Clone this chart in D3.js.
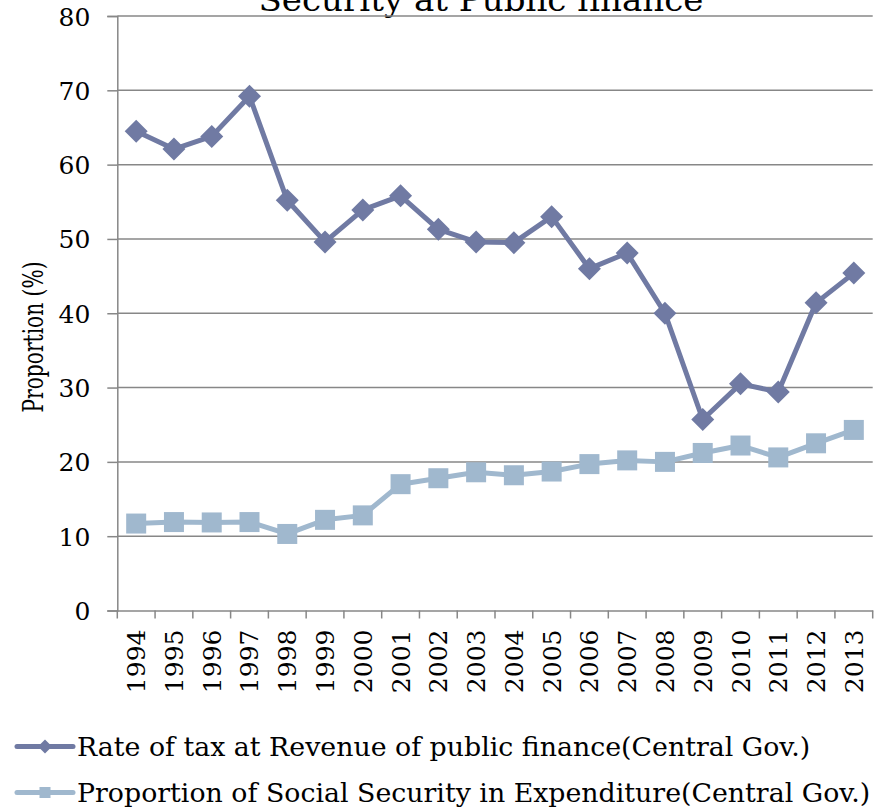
<!DOCTYPE html>
<html>
<head>
<meta charset="utf-8">
<script src="https://cdn.jsdelivr.net/npm/d3@7"></script>
<style>
  body { margin: 0; background: #fff; }
  text { font-family: "DejaVu Serif", serif; fill: #000; }
</style>
</head>
<body>
<script>
// data
var years = ["1994","1995","1996","1997","1998","1999","2000","2001","2002","2003",
             "2004","2005","2006","2007","2008","2009","2010","2011","2012","2013"];
var taxRate = [64.5, 62.1, 63.8, 69.2, 55.2, 49.6, 53.9, 55.8, 51.3, 49.6,
               49.5, 53.0, 46.0, 48.1, 40.0, 25.7, 30.5, 29.4, 41.4, 45.4];
var socialSecurity = [11.7, 11.9, 11.85, 11.9, 10.3, 12.2, 12.8, 17.0, 17.8, 18.6,
                      18.2, 18.7, 19.7, 20.2, 20.0, 21.2, 22.2, 20.6, 22.5, 24.3];
var yTicks = [0, 10, 20, 30, 40, 50, 60, 70, 80];
var seriesNames = ["Rate of tax at Revenue of public finance(Central Gov.)",
                   "Proportion of Social Security in Expenditure(Central Gov.)"];
var titleText = "Security at Public finance";
var yTitle = "Proportion (%)";

var W = 883, H = 809;
var plotLeft = 117.3, plotRight = 872.7, plotTop = 16, plotBottom = 610.5;
var c1 = "#707aa3", c2 = "#a0b8ce", grid = "#878787";

var svg = d3.select("body").append("svg")
    .attr("width", W)
    .attr("height", H);

var x = d3.scaleBand().domain(years).range([plotLeft, plotRight]);
var y = d3.scaleLinear().domain([0, 80]).range([plotBottom, plotTop]);
var cx = function(d, i) { return x(years[i]) + x.bandwidth() / 2; };

// title (only its lower line shows, cut at the top edge)
svg.append("text")
    .attr("x", 481)
    .attr("y", 11)
    .attr("text-anchor", "middle")
    .attr("textLength", 445)
    .attr("lengthAdjust", "spacingAndGlyphs")
    .style("font-size", "31px")
    .text(titleText);

// gridlines
svg.append("g").selectAll("line")
    .data(yTicks.filter(function(d) { return d > 0; }))
    .enter().append("line")
    .attr("x1", plotLeft).attr("x2", plotRight)
    .attr("y1", function(d) { return y(d); })
    .attr("y2", function(d) { return y(d); })
    .attr("stroke", grid)
    .attr("stroke-width", 1.5);

// y axis
var yAxis = svg.append("g")
    .attr("transform", "translate(" + plotLeft + ",0)")
    .call(d3.axisLeft(y).tickValues(yTicks).tickSize(10).tickPadding(17));
yAxis.select(".domain").attr("stroke", grid).attr("stroke-width", 1.5);
yAxis.selectAll(".tick line").attr("stroke", grid).attr("stroke-width", 1.5);
yAxis.selectAll(".tick text")
    .style("font-size", "25px")
    .style("font-family", "DejaVu Serif, serif")
    .attr("dy", "0.36em");

// x axis
var xAxis = svg.append("g")
    .attr("transform", "translate(0," + plotBottom + ")")
    .call(d3.axisBottom(x).tickSize(0).tickPadding(0));
xAxis.select(".domain").attr("stroke", grid).attr("stroke-width", 1.5);
xAxis.selectAll(".tick text")
    .style("font-size", "25px")
    .style("font-family", "DejaVu Serif, serif")
    .attr("text-anchor", "end")
    .attr("transform", "rotate(-90)")
    .attr("x", -19)
    .attr("y", 0)
    .attr("dy", "0.36em");

// category boundary ticks
var bounds = years.map(function(d) { return x(d); }).concat([x(years[years.length - 1]) + x.bandwidth()]);
svg.append("g").selectAll("line")
    .data(bounds)
    .enter().append("line")
    .attr("x1", function(d) { return d; })
    .attr("x2", function(d) { return d; })
    .attr("y1", plotBottom)
    .attr("y2", plotBottom + 8)
    .attr("stroke", grid)
    .attr("stroke-width", 1.5);

// y title
svg.append("text")
    .attr("transform", "translate(43,337) rotate(-90)")
    .attr("text-anchor", "middle")
    .attr("textLength", 151)
    .attr("lengthAdjust", "spacingAndGlyphs")
    .style("font-size", "27px")
    .text(yTitle);

var line = d3.line()
    .x(cx)
    .y(function(d) { return y(d); });

// series 2 (squares)
svg.append("path")
    .attr("d", line(socialSecurity))
    .attr("fill", "none")
    .attr("stroke", c2)
    .attr("stroke-width", 5)
    .attr("stroke-linejoin", "round");
svg.append("g").selectAll("rect")
    .data(socialSecurity)
    .enter().append("rect")
    .attr("x", function(d, i) { return cx(d, i) - 10; })
    .attr("y", function(d) { return y(d) - 10; })
    .attr("width", 20)
    .attr("height", 20)
    .attr("fill", c2);

// series 1 (diamonds)
svg.append("path")
    .attr("d", line(taxRate))
    .attr("fill", "none")
    .attr("stroke", c1)
    .attr("stroke-width", 5)
    .attr("stroke-linejoin", "round");
svg.append("g").selectAll("path")
    .data(taxRate)
    .enter().append("path")
    .attr("d", "M0,-11.5L11.5,0L0,11.5L-11.5,0Z")
    .attr("transform", function(d, i) { return "translate(" + cx(d, i) + "," + y(d) + ")"; })
    .attr("fill", c1);

// legend
var legend = svg.append("g").selectAll("g")
    .data(seriesNames)
    .enter().append("g")
    .attr("transform", function(d, i) { return "translate(0," + (746.5 + i * 46) + ")"; });

legend.append("line")
    .attr("x1", 17).attr("x2", 73)
    .attr("y1", 0).attr("y2", 0)
    .attr("stroke", function(d, i) { return i == 0 ? c1 : c2; })
    .attr("stroke-width", 5)
    .attr("stroke-linecap", "round");

legend.filter(function(d, i) { return i == 0; })
    .append("path")
    .attr("d", "M0,-7L7,0L0,7L-7,0Z")
    .attr("transform", "translate(45,0)")
    .attr("fill", c1);

legend.filter(function(d, i) { return i == 1; })
    .append("rect")
    .attr("x", 39.5).attr("y", -5.5)
    .attr("width", 11).attr("height", 11)
    .attr("fill", c2);

legend.append("text")
    .attr("x", 77)
    .attr("y", 9.5)
    .style("font-size", "26.8px")
    .text(function(d) { return d; });
</script>
</body>
</html>
